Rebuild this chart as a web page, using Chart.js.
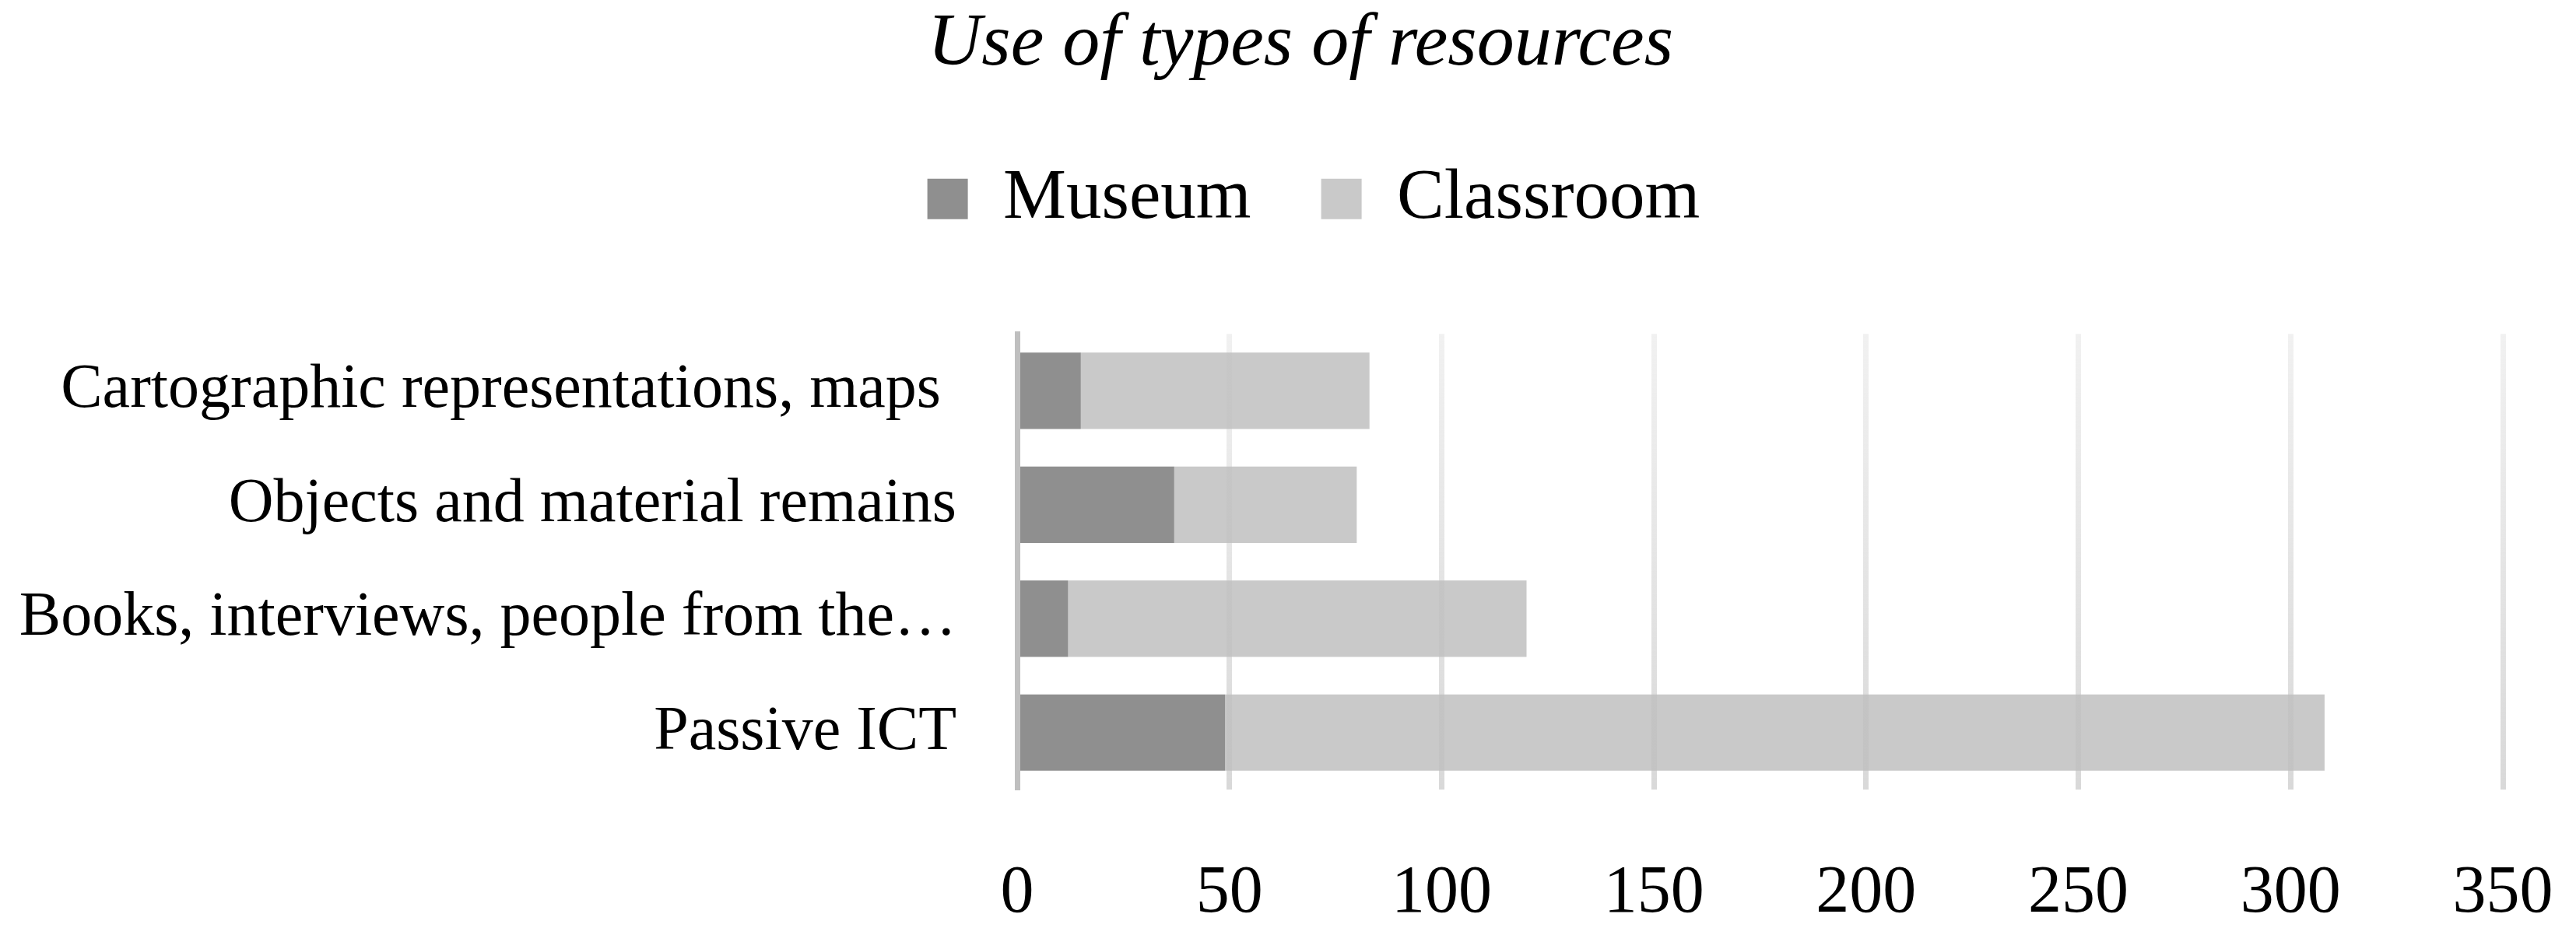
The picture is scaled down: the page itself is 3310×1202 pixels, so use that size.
<!DOCTYPE html>
<html>
<head>
<meta charset="utf-8">
<script src="https://cdn.jsdelivr.net/npm/chart.js@4/dist/chart.umd.min.js"></script>
<style>
html, body { margin: 0; padding: 0; background: #ffffff; }
canvas { display: block; }
</style>
</head>
<body>
<canvas id="c" width="3310" height="1202"></canvas>
<script>
// ---- data ----
const titleText = 'Use of types of resources';
const categories = [
  'Cartographic representations, maps ',
  'Objects and material remains',
  'Books, interviews, people from the…',
  'Passive ICT'
];
const seriesNames = ['Museum', 'Classroom'];
const museumValues = [15, 37, 12, 49];
const classroomValues = [68, 43, 108, 259];
const xTickValues = [0, 50, 100, 150, 200, 250, 300, 350];

// ---- styling ----
const FONT = "'Liberation Serif', 'Times New Roman', serif";
const seriesColors = ['#8f8f8f', '#c9c9c9'];

const layoutTweaks = {
  id: 'layoutTweaks',
  beforeLayout(chart) {
    const lg = chart.legend;
    if (lg && !lg._extraPatched) {
      const fit = lg.fit;
      lg.fit = function () { fit.call(this); this.height += 118; };
      lg._extraPatched = true;
    }
  },
  afterLayout(chart) {
    const lg = chart.legend;
    if (lg) { lg.left += 80; lg.right += 80; }
    const tb = chart.titleBlock;
    if (tb) { tb.left += 63; tb.right += 63; }
  }
};

function gridColor(ctx) {
  const chart = ctx.chart;
  const a = chart.chartArea;
  if (!a) return 'rgba(191,191,191,0.4)';
  const g = chart.ctx.createLinearGradient(0, a.top, 0, a.bottom);
  g.addColorStop(0, 'rgba(191,191,191,0.22)');
  g.addColorStop(1, 'rgba(191,191,191,0.6)');
  return g;
}

new Chart(document.getElementById('c'), {
  type: 'bar',
  data: {
    labels: categories,
    datasets: [
      { label: seriesNames[0], data: museumValues, backgroundColor: seriesColors[0], borderWidth: 0,
        barPercentage: 0.67, categoryPercentage: 1.0 },
      { label: seriesNames[1], data: classroomValues, backgroundColor: seriesColors[1], borderWidth: 0,
        barPercentage: 0.67, categoryPercentage: 1.0 }
    ]
  },
  plugins: [layoutTweaks],
  options: {
    indexAxis: 'y',
    responsive: false,
    devicePixelRatio: 1,
    animation: false,
    events: [],
    layout: { padding: { left: 0, right: 94, top: 0, bottom: 0 } },
    plugins: {
      title: {
        display: true, text: titleText, color: '#000',
        font: { family: FONT, size: 96, style: 'italic', weight: 'normal' },
        padding: { top: 0, bottom: 5 }
      },
      legend: {
        display: true, position: 'top', align: 'center',
        labels: { color: '#000', font: { family: FONT, size: 91 }, boxWidth: 52, boxHeight: 52, padding: 90 }
      },
      tooltip: { enabled: false }
    },
    scales: {
      x: {
        stacked: true, min: 0, max: 350,
        afterBuildTicks: (s) => { s.ticks = xTickValues.map(v => ({ value: v })); },
        grid: { color: gridColor, lineWidth: 7, drawTicks: false, z: 1 },
        border: { display: false },
        ticks: { color: '#000', font: { family: FONT, size: 86 }, padding: 83, maxRotation: 0 },
        afterFit: (s) => { s.height = 187; s.paddingLeft = 0; s.paddingRight = 0; }
      },
      y: {
        stacked: true,
        grid: { display: false, drawTicks: false },
        border: { display: true, color: '#bfbfbf', width: 7, z: 1 },
        ticks: { color: '#000', font: { family: FONT, size: 80 }, padding: 78, autoSkip: false },
        afterFit: (s) => { s.width = 1307; }
      }
    }
  }
});
</script>
</body>
</html>
